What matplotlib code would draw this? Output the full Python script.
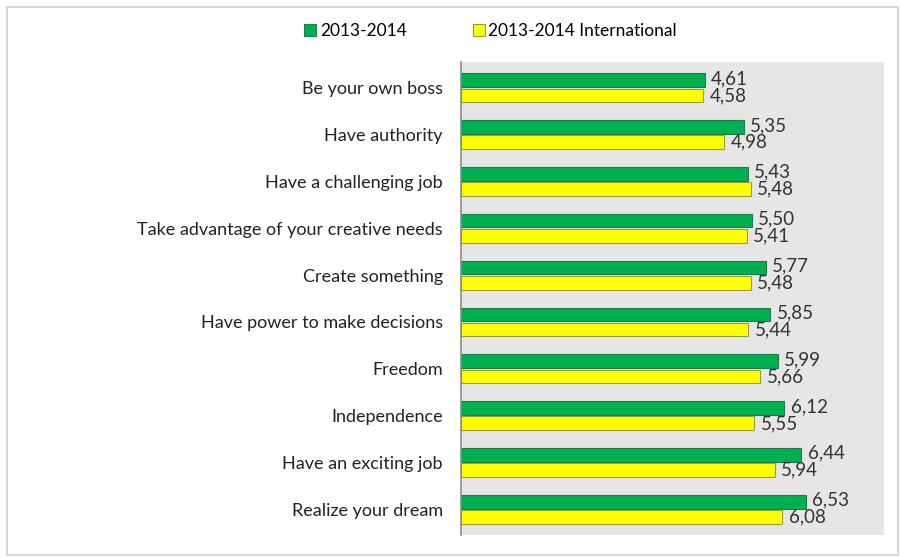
import numpy as np
import matplotlib.pyplot as plt
from matplotlib.patches import Rectangle

categories = [
    'Be your own boss',
    'Have authority',
    'Have a challenging job',
    'Take advantage of your creative needs',
    'Create something',
    'Have power to make decisions',
    'Freedom',
    'Independence',
    'Have an exciting job',
    'Realize your dream',
]
local_vals = [4.61, 5.35, 5.43, 5.50, 5.77, 5.85, 5.99, 6.12, 6.44, 6.53]
intl_vals = [4.58, 4.98, 5.48, 5.41, 5.48, 5.44, 5.66, 5.55, 5.94, 6.08]
series_names = ['2013-2014', '2013-2014 International']

plt.rcParams['font.family'] = ['Lato', 'DejaVu Sans']

fig = plt.figure(figsize=(9, 5.58), dpi=100)
fig.patch.set_facecolor('white')

# outer frame of the pasted chart
fig.patches.append(Rectangle((0.008, 0.005), 0.99, 0.982, transform=fig.transFigure,
                             fill=False, edgecolor='#cfcfcf', linewidth=1.2))

ax = fig.add_axes([0.512, 0.041, 0.470, 0.848])
ax.set_facecolor('#e6e6e6')

y = np.arange(len(categories))
h = 0.29
gap = 0.035
ax.barh(y - h / 2 - gap / 2, local_vals, height=h, color='#00b050',
        edgecolor='#1e7a4c', linewidth=0.8, label=series_names[0])
ax.barh(y + h / 2 + gap / 2, intl_vals, height=h, color='#ffff00',
        edgecolor='#9c9c3a', linewidth=0.8, label=series_names[1])

for yi, v in zip(y, local_vals):
    ax.text(v + 0.12, yi - h / 2 - 0.05, f'{v:.2f}'.replace('.', ','),
            va='center', ha='left', fontsize=13.5, color='#333333')
for yi, v in zip(y, intl_vals):
    ax.text(v + 0.12, yi + h / 2 + 0.02, f'{v:.2f}'.replace('.', ','),
            va='center', ha='left', fontsize=13.5, color='#333333')

ax.set_xlim(0, 8)
ax.set_ylim(len(categories) - 0.45, -0.55)
ax.set_yticks(y)
ax.set_yticklabels(categories, fontsize=13, color='#222222')
ax.tick_params(axis='y', length=0, pad=13)
ax.set_xticks([])
for s in ['top', 'right', 'bottom']:
    ax.spines[s].set_visible(False)
ax.spines['left'].set_color('#8c8c8c')
ax.spines['left'].set_linewidth(1.2)

fig.legend(loc='center', bbox_to_anchor=(0.545, 0.945), ncol=2, frameon=False,
           fontsize=12.5, handlelength=0.7, handleheight=0.7, handletextpad=0.2,
           columnspacing=3.8)

fig.savefig('out.png', dpi=100)
